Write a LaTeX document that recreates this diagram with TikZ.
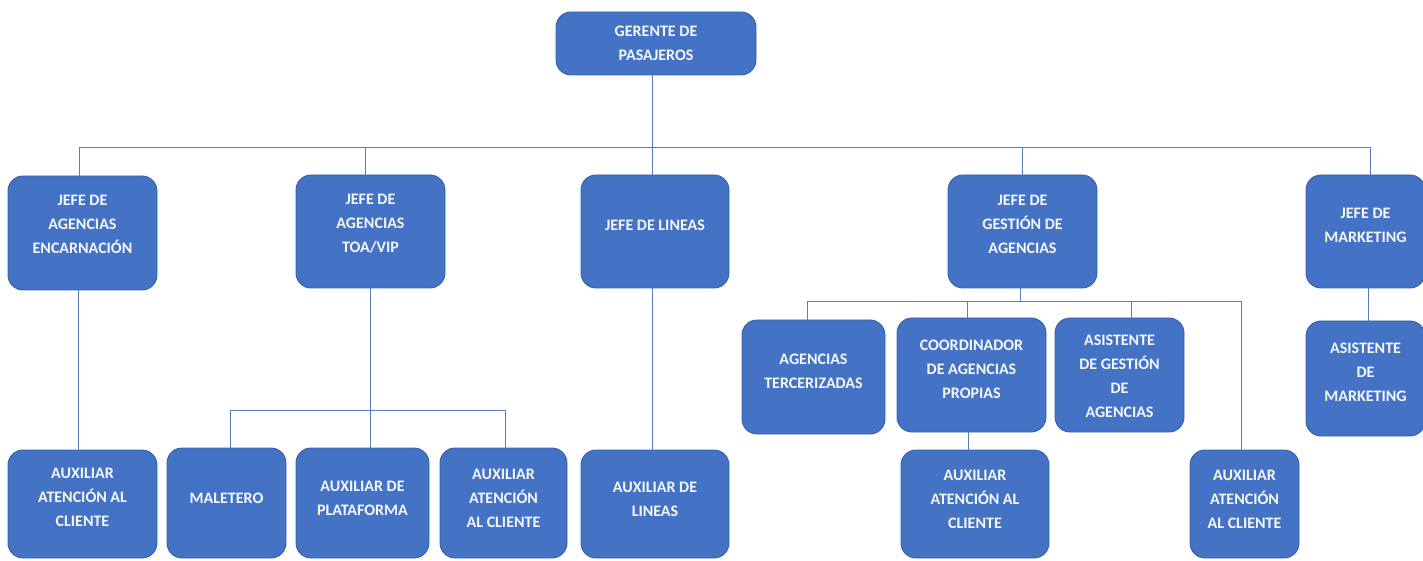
\documentclass[tikz,border=0pt]{standalone}
\usepackage{fontspec}
\setmainfont{Carlito}
\usetikzlibrary{fit}
\definecolor{boxblue}{HTML}{4472C4}
\definecolor{boxedge}{HTML}{3560AC}
\definecolor{linkblue}{HTML}{5A7DBA}
% #1 name, #2-#5 corners (x1,y1,x2,y2 measured from the top left), #6 text line centre, #7 text
\newcommand\orgbox[7]{%
  \node[box, fit={({#2},{560-#3}) ({#4},{560-#5})}] (#1) {};
  \node[lbl] (#1-t) at ({(#2+#4)/2},{560-#6}) {#7};}
\begin{document}
\begin{tikzpicture}[x=1pt,y=1pt,
  box/.style={draw=boxedge, fill=boxblue, line width=0.9pt, rounded corners=15pt, inner sep=0pt},
  lbl/.style={text=white!94!boxblue, align=center, font=\fontsize{16}{24}\selectfont\bfseries, inner sep=0pt},
  link/.style={draw=linkblue, line width=1pt}]
\useasboundingbox (0,0) rectangle (1423,560);

% top
\orgbox{ger}{556}{12}{756}{75}{43}{GERENTE DE\\PASAJEROS}

% heads of area
\orgbox{j1}{8}{176}{157}{290}{224}{JEFE DE\\AGENCIAS\\ENCARNACIÓN}
\orgbox{j2}{296}{175}{445}{288}{224}{JEFE DE\\AGENCIAS\\TOA/VIP}
\orgbox{j3}{581}{175}{729}{288}{225}{JEFE DE LINEAS}
\orgbox{j4}{948}{175}{1097}{288}{224}{JEFE DE\\GESTIÓN DE\\AGENCIAS}
\orgbox{j5}{1306}{175}{1425}{288}{225}{JEFE DE\\MARKETING}

% middle row
\orgbox{ter}{742}{320}{885}{434}{371}{AGENCIAS\\TERCERIZADAS}
\orgbox{coo}{897}{318}{1046}{432}{369}{COORDINADOR\\DE AGENCIAS\\PROPIAS}
\orgbox{asi}{1055}{318}{1184}{432}{376}{ASISTENTE\\DE GESTIÓN\\DE\\AGENCIAS}
\orgbox{asm}{1306}{321}{1425}{436}{372}{ASISTENTE\\DE\\MARKETING}

% bottom row
\orgbox{a1}{8}{450}{157}{558}{497}{AUXILIAR\\ATENCIÓN AL\\CLIENTE}
\orgbox{mal}{167}{448}{286}{558}{498}{MALETERO}
\orgbox{plat}{296}{448}{429}{558}{498}{AUXILIAR DE\\PLATAFORMA}
\orgbox{aux2}{440}{448}{567}{558}{498}{AUXILIAR\\ATENCIÓN\\AL CLIENTE}
\orgbox{lin}{581}{450}{729}{558}{499}{AUXILIAR DE\\LINEAS}
\orgbox{aux3}{901}{450}{1049}{558}{499}{AUXILIAR\\ATENCIÓN AL\\CLIENTE}
\orgbox{aux4}{1190}{450}{1299}{558}{499}{AUXILIAR\\ATENCIÓN\\AL CLIENTE}

% bus levels
\coordinate (bus1) at (0,412);
\coordinate (bus2) at (0,150);
\coordinate (bus3) at (0,258);

% gerente to heads
\draw[link] ([xshift=-4pt]ger.south) -- ([xshift=-4pt]ger.south |- bus1);
\draw[link] ([xshift=-3pt]j1.north) |- ([xshift=5pt]j5.north |- bus1) -- ([xshift=5pt]j5.north);
\draw[link] ([xshift=-5pt]j2.north) -- ([xshift=-5pt]j2.north |- bus1);
\draw[link] ([xshift=-3pt]j3.north) -- ([xshift=-3pt]j3.north |- bus1);
\draw[link] (j4.north) -- (j4.north |- bus1);

% encarnacion
\draw[link] ([xshift=-4pt]j1.south) -- ([xshift=-4pt]j1.south |- a1.north);

% toa/vip
\draw[link] (j2.south) -- (j2.south |- plat.north);
\draw[link] ([xshift=4pt]mal.north) |- ([xshift=2pt]aux2.north |- bus2) -- ([xshift=2pt]aux2.north);

% lineas
\draw[link] ([xshift=-3pt]j3.south) -- ([xshift=-3pt]j3.south |- lin.north);

% gestion de agencias
\draw[link] ([xshift=-2pt]j4.south) -- ([xshift=-2pt]j4.south |- bus3);
\draw[link] ([xshift=-6pt]ter.north) |- ([xshift=-3pt]aux4.north |- bus3) -- ([xshift=-3pt]aux4.north);
\draw[link] ([xshift=-4pt]coo.north) -- ([xshift=-4pt]coo.north |- bus3);
\draw[link] ([xshift=12pt]asi.north) -- ([xshift=12pt]asi.north |- bus3);
\draw[link] ([xshift=-3pt]coo.south) -- ([xshift=-3pt]coo.south |- aux3.north);

% marketing
\draw[link] ([xshift=3pt]j5.south) -- ([xshift=3pt]j5.south |- asm.north);
\end{tikzpicture}
\end{document}
